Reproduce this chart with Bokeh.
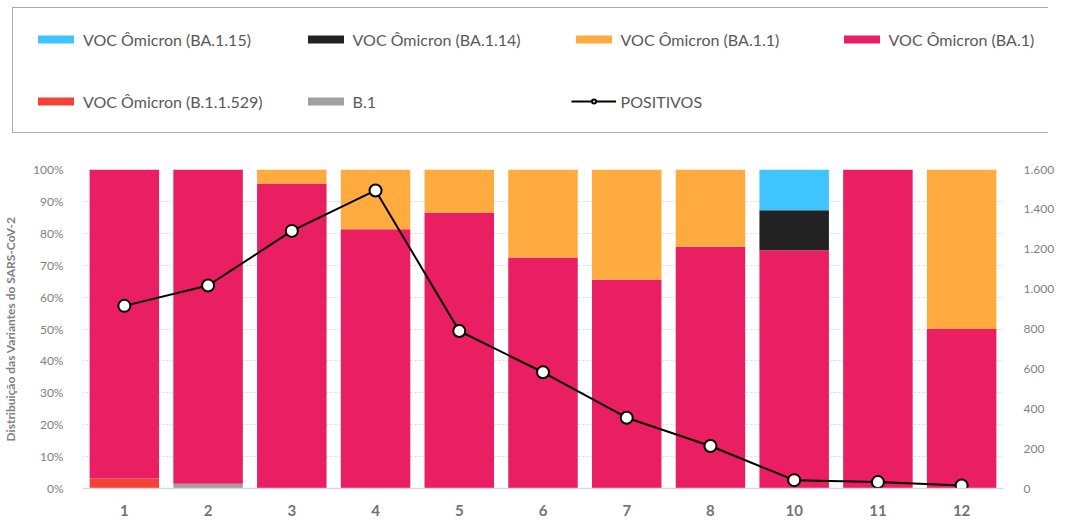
from bokeh.plotting import figure
from bokeh.models import (ColumnDataSource, FactorRange, Range1d, LinearAxis, FixedTicker,
                          Legend, LegendItem)
from bokeh.embed import file_html
from bokeh.resources import INLINE

categories = ["1", "2", "3", "4", "5", "6", "7", "8", "10", "11", "12"]
b11529 = [3.1, 0, 0, 0, 0, 0, 0, 0, 0, 0, 0]
b1 = [0, 1.5, 0, 0, 0, 0, 0, 0, 0, 0, 0]
ba1 = [96.9, 98.5, 95.6, 81.3, 86.5, 72.4, 65.4, 75.8, 74.7, 100, 50]
ba11 = [0, 0, 4.4, 18.7, 13.5, 27.6, 34.6, 24.2, 0, 0, 50]
ba114 = [0, 0, 0, 0, 0, 0, 0, 0, 12.5, 0, 0]
ba115 = [0, 0, 0, 0, 0, 0, 0, 0, 12.8, 0, 0]
positivos = [916, 1018, 1292, 1495, 790, 583, 355, 213, 42, 32, 15]

pct_ticks = [0, 10, 20, 30, 40, 50, 60, 70, 80, 90, 100]
pos_ticks = [0, 200, 400, 600, 800, 1000, 1200, 1400, 1600]

series_keys = ["b11529", "b1", "ba1", "ba11", "ba114", "ba115"]
series_labels = ["VOC Ômicron (B.1.1.529)", "B.1", "VOC Ômicron (BA.1)", "VOC Ômicron (BA.1.1)",
                 "VOC Ômicron (BA.1.14)", "VOC Ômicron (BA.1.15)"]
series_colors = ["#F44336", "#A0A0A0", "#E91E63", "#FFAB40", "#222222", "#40C4FF"]
legend_order = ["VOC Ômicron (BA.1.15)", "VOC Ômicron (BA.1.14)", "VOC Ômicron (BA.1.1)",
                "VOC Ômicron (BA.1)", "VOC Ômicron (B.1.1.529)", "B.1"]
line_label = "POSITIVOS"

FONT = "Lato"
NAN = float("nan")
source = ColumnDataSource(dict(cat=categories, b11529=b11529, b1=b1, ba1=ba1, ba11=ba11,
                               ba114=ba114, ba115=ba115, pos=positivos))

# ---------------- main chart ----------------
p = figure(width=1062, height=378, x_range=FactorRange(*categories), y_range=Range1d(0, 100),
           output_backend="svg", toolbar_location=None,
           min_border_left=75, min_border_right=59, min_border_top=29, min_border_bottom=29)
p.outline_line_color = None
p.extra_y_ranges = {"pos": Range1d(0, 1600)}
p.x_range.range_padding = 0
p.x_range.group_padding = 0

p.vbar_stack(series_keys, x="cat", width=0.83, color=series_colors, source=source,
             line_color=None)
p.line(x="cat", y="pos", y_range_name="pos", source=source, line_color="black", line_width=2)
p.scatter(x="cat", y="pos", y_range_name="pos", source=source, size=12, marker="circle",
          fill_color="white", line_color="black", line_width=2)

p.xgrid.grid_line_color = None
p.ygrid.ticker = FixedTicker(ticks=pct_ticks)
p.ygrid.grid_line_color = "#d9d9d9"
p.ygrid.grid_line_dash = "2 2"

yax = p.yaxis[0]
yax.ticker = FixedTicker(ticks=pct_ticks)
yax.major_label_overrides = {t: f"{t}%" for t in pct_ticks}
yax.axis_line_color = None
yax.major_tick_line_color = None
yax.minor_tick_line_color = None
yax.major_label_text_font = FONT
yax.major_label_text_font_size = "12px"
yax.major_label_text_color = "#7f7f7f"
yax.major_label_standoff = 13
yax.axis_label = "Distribuição das Variantes do SARS-CoV-2"
yax.axis_label_text_font = FONT
yax.axis_label_text_font_style = "bold"
yax.axis_label_text_font_size = "12px"
yax.axis_label_text_color = "#7f7f7f"
yax.axis_label_standoff = 12

xax = p.xaxis[0]
xax.axis_line_color = "#d9d9d9"
xax.axis_line_width = 1.5
xax.major_tick_line_color = None
xax.minor_tick_line_color = None
xax.major_label_text_font = FONT
xax.major_label_text_font_style = "bold"
xax.major_label_text_font_size = "15px"
xax.major_label_text_color = "#737373"
xax.major_label_standoff = 10

rax = LinearAxis(y_range_name="pos", ticker=FixedTicker(ticks=pos_ticks))
rax.major_label_overrides = {t: f"{t:,}".replace(",", ".") for t in pos_ticks}
rax.axis_line_color = None
rax.major_tick_line_color = None
rax.minor_tick_line_color = None
rax.major_label_text_font = FONT
rax.major_label_text_font_size = "12px"
rax.major_label_text_color = "#7f7f7f"
rax.major_label_standoff = 14
p.add_layout(rax, "right")

# ---------------- legend panel ----------------
lg = figure(width=1048, height=140, x_range=Range1d(0, 1), y_range=Range1d(0, 1),
            output_backend="svg", toolbar_location=None,
            x_axis_location=None, y_axis_location=None, min_border=0)
lg.outline_line_color = None
lg.grid.grid_line_color = None
color_of = dict(zip(series_labels, series_colors))
items = []
for lab in legend_order:
    r = lg.vbar(x=[NAN], top=[NAN], width=0.5, fill_color=color_of[lab], line_color=None)
    items.append(LegendItem(label=lab, renderers=[r]))
rl = lg.line(x=[NAN], y=[NAN], line_color="black", line_width=2)
rm = lg.scatter(x=[NAN], y=[NAN], size=12, marker="circle", fill_color="white",
                line_color="black", line_width=2)
items.append(LegendItem(label=line_label, renderers=[rl, rm]))
legend = Legend(items=items, orientation="horizontal", ncols=4, location=(12, 7),
                glyph_width=45, glyph_height=10, label_height=22, label_width=178,
                label_standoff=5, spacing=40, padding=20,
                label_text_font=FONT, label_text_font_size="16px", label_text_color="#595959",
                border_line_color="#5a5a5a", border_line_width=1.5,
                background_fill_alpha=1, background_fill_color="white")
lg.add_layout(legend, "center")

open("out.html", "w").write(file_html([lg, p], INLINE))
